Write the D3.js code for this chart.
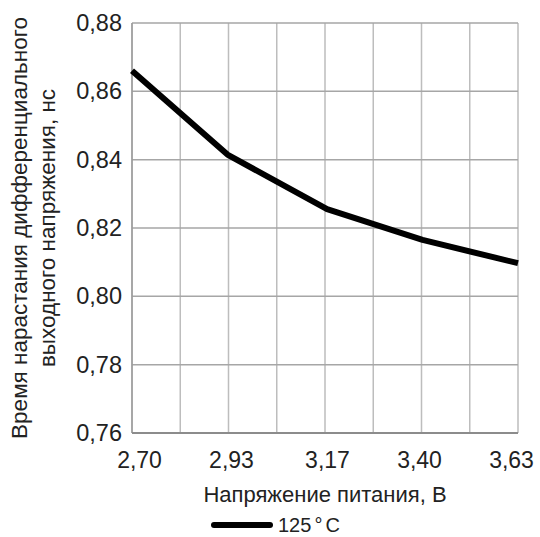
<!DOCTYPE html>
<html>
<head>
<meta charset="utf-8">
<script src="https://cdn.jsdelivr.net/npm/d3@7"></script>
<style>
  html, body { margin: 0; padding: 0; background: #fff; }
  svg { display: block; font-family: "Liberation Sans", Arial, sans-serif; }
</style>
</head>
<body>
<svg id="chart" width="540" height="537"></svg>
<script>
// Supply voltage (V) and differential output rise time (ns) at 125 °C
const supplyVoltage = [2.70, 2.93, 3.17, 3.40, 3.63];
const riseTime125 = [0.866, 0.8415, 0.8255, 0.8165, 0.8097];

const xTickValues = [2.70, 2.93, 3.17, 3.40, 3.63];
const xTickLabels = ["2,70", "2,93", "3,17", "3,40", "3,63"];
const yTickValues = [0.76, 0.78, 0.80, 0.82, 0.84, 0.86, 0.88];
const yTickLabels = ["0,76", "0,78", "0,80", "0,82", "0,84", "0,86", "0,88"];

const xTitle = "Напряжение питания, В";
const yTitleLines = ["Время нарастания дифференциального", "выходного напряжения, нс"];

const svg = d3.select("#chart");
const margin = { left: 132, top: 23, right: 22, bottom: 104 };
const W = 540, H = 537;
const plotW = W - margin.left - margin.right;
const plotH = H - margin.top - margin.bottom;

const x = d3.scaleLinear().domain([2.70, 3.63]).range([0, plotW]);
const y = d3.scaleLinear().domain([0.76, 0.88]).range([plotH, 0]);
// tick labels sit slightly inside the end ticks
const labelInset = 7;
const xLabel = d3.scaleLinear().domain(x.domain()).range([labelInset, plotW - labelInset]);

const g = svg.append("g").attr("transform", `translate(${margin.left},${margin.top})`);

// vertical grid: major ticks plus one line midway between them
const vGrid = d3.range(9).map(i => 2.70 + i * (3.63 - 2.70) / 8);
g.append("g").selectAll("line").data(vGrid).join("line")
  .attr("x1", d => x(d)).attr("x2", d => x(d))
  .attr("y1", 0).attr("y2", plotH)
  .attr("stroke", "#bdbdbd").attr("stroke-width", 1.5);

// horizontal grid
g.append("g").selectAll("line").data(yTickValues).join("line")
  .attr("x1", 0).attr("x2", plotW)
  .attr("y1", d => y(d)).attr("y2", d => y(d))
  .attr("stroke", "#a6a6a6").attr("stroke-width", 1.5);

// frame edges
g.append("line").attr("x1", 0).attr("x2", 0).attr("y1", 0).attr("y2", plotH)
  .attr("stroke", "#9a9a9a").attr("stroke-width", 1.5);
g.append("line").attr("x1", 0).attr("x2", plotW).attr("y1", plotH).attr("y2", plotH)
  .attr("stroke", "#8c8c8c").attr("stroke-width", 2);

const font = "Liberation Sans, Arial, sans-serif";

// axes (labels only, grid drawn above)
const xAxis = d3.axisBottom(x).tickValues(xTickValues)
  .tickFormat((d, i) => xTickLabels[i]).tickSize(0).tickPadding(19);
const gx = g.append("g").attr("transform", `translate(0,${plotH})`).call(xAxis);
gx.select(".domain").remove();
gx.selectAll(".tick text")
  .attr("x", d => xLabel(d) - x(d))
  .attr("font-size", 23).attr("fill", "#222").attr("font-family", font);

const yAxis = d3.axisLeft(y).tickValues(yTickValues)
  .tickFormat((d, i) => yTickLabels[i]).tickSize(0).tickPadding(10);
const gy = g.append("g").call(yAxis);
gy.select(".domain").remove();
gy.selectAll("text").attr("font-size", 23.5).attr("fill", "#222").attr("font-family", font);

// data line
const line = d3.line().x((d, i) => x(supplyVoltage[i])).y(d => y(d));
g.append("path").datum(riseTime125)
  .attr("d", line)
  .attr("fill", "none").attr("stroke", "#000")
  .attr("stroke-width", 6).attr("stroke-linejoin", "round");

// axis titles
svg.append("text")
  .attr("x", margin.left + plotW / 2).attr("y", 502)
  .attr("text-anchor", "middle").attr("font-size", 22).attr("fill", "#222")
  .text(xTitle);

const yt = svg.append("text")
  .attr("transform", `translate(27,${margin.top + plotH / 2}) rotate(-90)`)
  .attr("text-anchor", "middle").attr("font-size", 22.5).attr("fill", "#222");
yt.selectAll("tspan").data(yTitleLines).join("tspan")
  .attr("x", 0).attr("dy", (d, i) => i === 0 ? 0 : 28).text(d => d);

// legend
const lg = svg.append("g").attr("transform", "translate(214,525)");
lg.append("line").attr("x1", 0).attr("x2", 56).attr("y1", 0).attr("y2", 0)
  .attr("stroke", "#000").attr("stroke-width", 6).attr("stroke-linecap", "round");
const lt = lg.append("text").attr("x", 64).attr("y", 7)
  .attr("font-size", 20).attr("fill", "#222");
lt.append("tspan").text("125");
lt.append("tspan").attr("dx", 3).text("°");
lt.append("tspan").attr("dx", 3).text("C");
</script>
</body>
</html>
